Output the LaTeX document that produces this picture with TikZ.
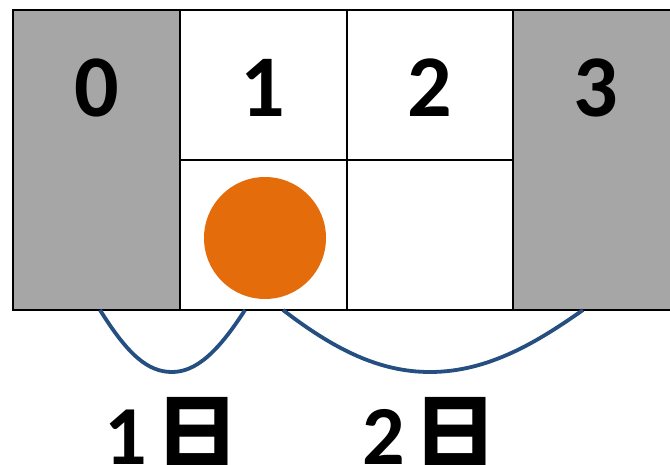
\documentclass[tikz,border=0pt]{standalone}
\usepackage{fontspec}
\setmainfont{Carlito}
\newfontfamily\cjk{Noto Sans CJK JP}
\definecolor{cellgray}{HTML}{A6A6A6}
\definecolor{ballorange}{HTML}{E46C0A}
\definecolor{arcblue}{HTML}{244F80}
\begin{document}
\begin{tikzpicture}[x=1pt,y=-1pt,
  cell/.style={draw=black,line width=1.6pt,minimum width=166.7pt,minimum height=150pt,inner sep=0pt,outer sep=0pt},
  tall/.style={cell,fill=cellgray,minimum height=300pt},
  digit/.style={font=\fontsize{88}{88}\selectfont\bfseries},
  arc/.style={draw=arcblue,line width=3.8pt},
  lbl/.style={font=\fontsize{84}{84}\selectfont\bfseries,anchor=base,inner sep=0pt}]
\useasboundingbox (0,0) rectangle (670,464);
\clip (0,0) rectangle (670,464);
\fill[white] (0,0) rectangle (670,464);
\node[tall,anchor=north west] (c0) at (13,10) {};
\node[tall,anchor=north west] (c3) at (513,10) {};
\node[cell,anchor=north west] (c1) at (180,10) {};
\node[cell,anchor=north west] (c2) at (346.5,10) {};
\node[cell,anchor=north west] (b1) at (180,160) {};
\node[cell,anchor=north west] (b2) at (346.5,160) {};
\node[digit] (t0) at (96.5,88) {0};
\node[digit] (t1) at (263,88) {1};
\node[digit] (t2) at (430,88) {2};
\node[digit] (t3) at (596,88) {3};
\node[circle,fill=ballorange,minimum size=122pt,inner sep=0pt] (ball) at (265,238) {};
\coordinate (a1) at (100,310);
\coordinate (m1) at (172,372);
\coordinate (e1) at (245,310);
\coordinate (a2) at (283,310);
\coordinate (m2) at (430,372);
\coordinate (e2) at (583,310);
\draw[arc] (a1) .. controls (128,355) and (148,372) .. (m1) .. controls (196,372) and (218,352) .. (e1);
\draw[arc] (a2) .. controls (335,350) and (380,372) .. (m2) .. controls (490,372) and (540,340) .. (e2);
\node[lbl] (l1) at (172,464) {1\hspace{8pt}{\cjk 日}};
\node[lbl] (l2) at (430,464) {2\hspace{8pt}{\cjk 日}};
\end{tikzpicture}
\end{document}
